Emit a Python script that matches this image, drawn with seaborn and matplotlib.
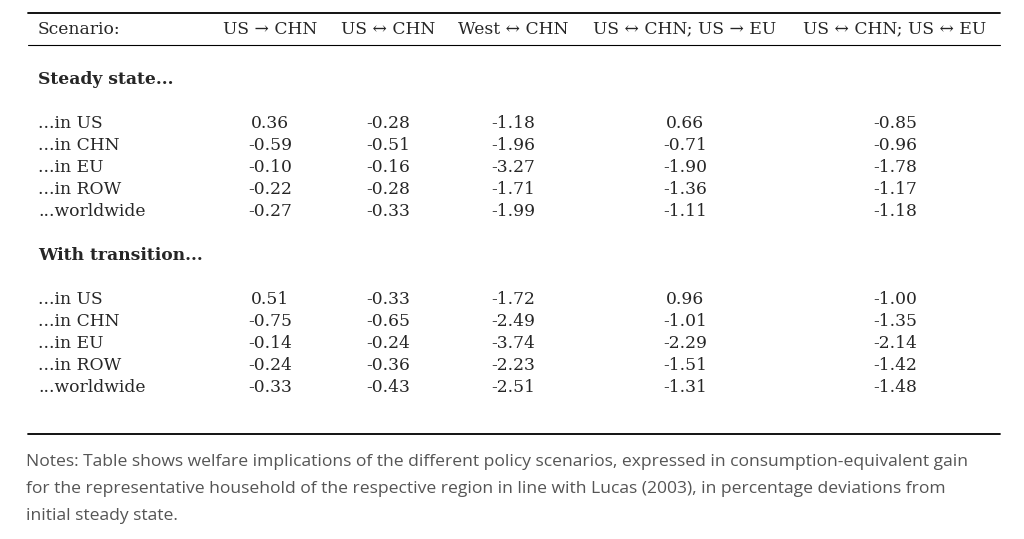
import matplotlib
matplotlib.use("Agg")
import matplotlib.pyplot as plt
import seaborn as sns

sns.set_style("white")

scenarios = ["US → CHN", "US ↔ CHN", "West ↔ CHN", "US ↔ CHN; US → EU", "US ↔ CHN; US ↔ EU"]
regions = ["...in US", "...in CHN", "...in EU", "...in ROW", "...worldwide"]
steady = [
    [0.36, -0.28, -1.18, 0.66, -0.85],
    [-0.59, -0.51, -1.96, -0.71, -0.96],
    [-0.10, -0.16, -3.27, -1.90, -1.78],
    [-0.22, -0.28, -1.71, -1.36, -1.17],
    [-0.27, -0.33, -1.99, -1.11, -1.18],
]
transition = [
    [0.51, -0.33, -1.72, 0.96, -1.00],
    [-0.75, -0.65, -2.49, -1.01, -1.35],
    [-0.14, -0.24, -3.74, -2.29, -2.14],
    [-0.24, -0.36, -2.23, -1.51, -1.42],
    [-0.33, -0.43, -2.51, -1.31, -1.48],
]
notes = ["Notes: Table shows welfare implications of the different policy scenarios, expressed in consumption-equivalent gain",
         "for the representative household of the respective region in line with Lucas (2003), in percentage deviations from",
         "initial steady state."]

fig = plt.figure(figsize=(10.24, 5.39), dpi=100)
ax = fig.add_axes([0, 0, 1, 1])
ax.set_xlim(0, 1024); ax.set_ylim(539, 0); ax.axis("off")

serif = "DejaVu Serif"
fs = 12.3
colx = [270, 388, 513, 685, 895]
lx = 38
for y, lw in [(13, 1.3), (45, 0.8), (434, 1.3)]:
    ax.plot([28, 1000], [y, y], color="black", lw=lw)
ax.text(lx, 29, "Scenario:", family=serif, fontsize=fs, va="center")
for x, s in zip(colx, scenarios):
    ax.text(x, 29, s, family=serif, fontsize=fs, va="center", ha="center")

def block(title, ty, rows_y, data):
    ax.text(lx, ty, title, family=serif, fontsize=fs, weight="bold", va="center")
    for y, r, vals in zip(rows_y, regions, data):
        ax.text(lx, y, r, family=serif, fontsize=fs, va="center")
        for x, v in zip(colx, vals):
            ax.text(x, y, f"{v:.2f}", family=serif, fontsize=fs, va="center", ha="center")

block("Steady state...", 79, [123, 145, 167, 189, 211], steady)
block("With transition...", 255, [299, 321, 343, 365, 387], transition)

for y, t in zip([462, 489, 516], notes):
    ax.text(26, y, t, family="Open Sans", fontsize=12.6, color="#555555", va="center")

fig.savefig("out.png", dpi=100)
